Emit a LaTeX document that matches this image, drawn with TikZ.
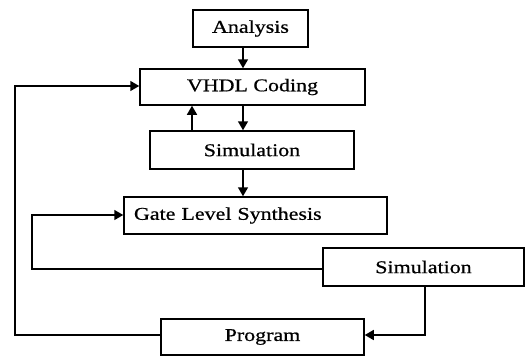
\documentclass[tikz,border=0pt]{standalone}
\usepackage{fontspec}
\setmainfont[FakeStretch=1.22,FakeBold=0.7]{Liberation Serif}
\usetikzlibrary{arrows.meta}
\begin{document}
\begin{tikzpicture}[x=1pt,y=-1pt,
  box/.style={draw,line width=1.5pt,inner sep=0pt,font=\fontsize{18}{20}\selectfont},
  conn/.style={line width=1.5pt,-{Triangle[length=9pt,width=10pt]}},
  plain/.style={line width=1.5pt}]
\useasboundingbox (0,0) rectangle (527,356);
\node[box,minimum width=115pt,minimum height=37pt] (ana) at (250.5,28.5) {Analysis};
\node[box,minimum width=225pt,minimum height=36pt] (vhdl) at (252.5,87) {VHDL Coding};
\node[box,minimum width=204pt,minimum height=38pt] (sim1) at (252,150) {Simulation};
\node[box,minimum width=263pt,minimum height=37pt,text width=243pt,align=left] (gls) at (255.5,215.5) {Gate Level Synthesis};
\node[box,minimum width=201pt,minimum height=38pt] (sim2) at (423.5,267) {Simulation};
\node[box,minimum width=203pt,minimum height=36pt] (prog) at (262.5,337) {Program};
\coordinate (c1) at (15,86);
\coordinate (c2) at (15,335);
\coordinate (c3) at (32,269);
\coordinate (c4) at (32,215);
\coordinate (c5) at (425,335);
\draw[conn] (ana.south -| 243,0) -- (vhdl.north -| 243,0);
\draw[conn] (vhdl.south -| 243,0) -- (sim1.north -| 243,0);
\draw[conn] (sim1.north -| 192,0) -- (vhdl.south -| 192,0);
\draw[conn] (sim1.south -| 243,0) -- (gls.north -| 243,0);
\draw[conn] (sim2.west |- c3) -- (c3) -- (c4) -- (gls.west |- c4);
\draw[conn] (sim2.south -| c5) -- (c5) -- (prog.east |- c5);
\draw[conn] (prog.west |- c2) -- (c2) -- (c1) -- (vhdl.west |- c1);
\end{tikzpicture}
\end{document}
